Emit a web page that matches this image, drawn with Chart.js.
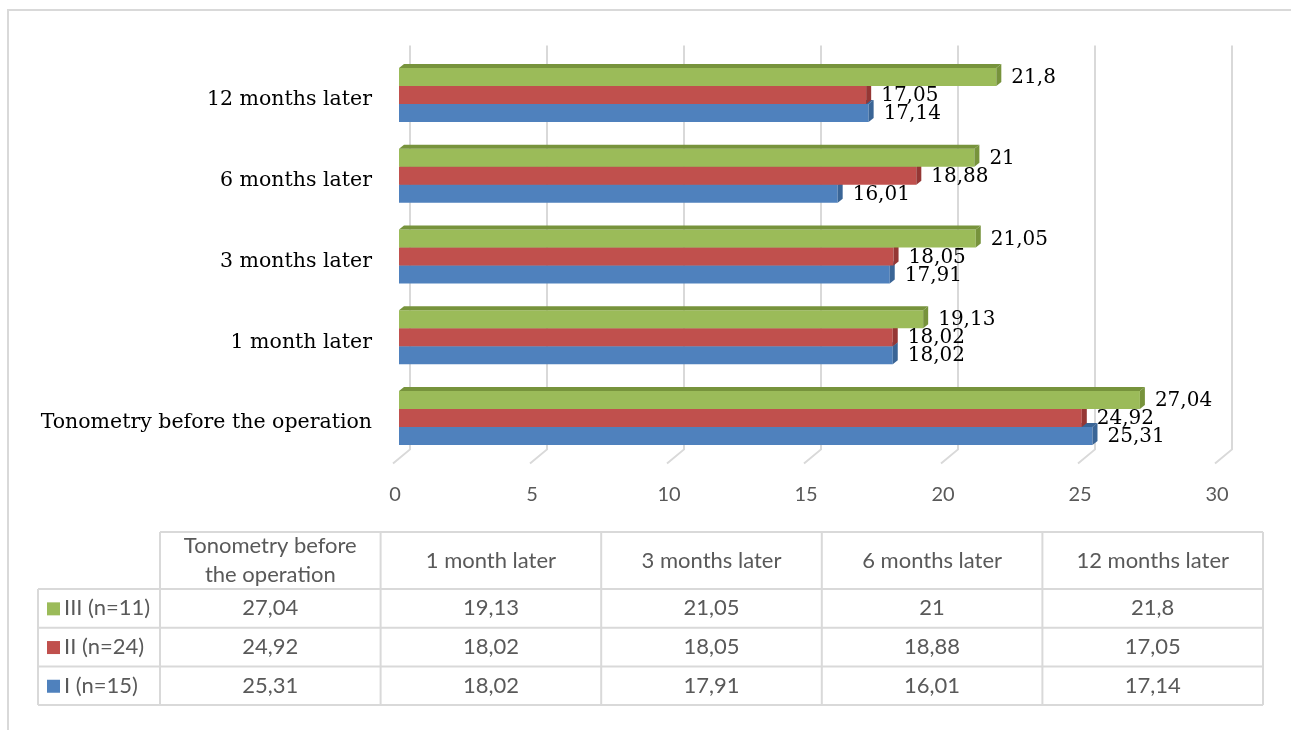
<!DOCTYPE html>
<html>
<head>
<meta charset="utf-8">
<title>Tonometry by group</title>
<script src="https://cdn.jsdelivr.net/npm/chart.js@4.4.1/dist/chart.umd.min.js"></script>
<style>
  html, body { margin: 0; padding: 0; background: #ffffff; }
  canvas { display: block; }
</style>
</head>
<body>
<canvas id="chart" width="1291" height="730"></canvas>
<script>
// Time points (first one is drawn at the bottom of the bar chart)
const categories = [
  'Tonometry before the operation',
  '1 month later',
  '3 months later',
  '6 months later',
  '12 months later'
];

// Group names as shown in the table legend
const seriesNames = ['III (n=11)', 'II (n=24)', 'I (n=15)'];

// Mean intraocular pressure per group
const groupIII = [27.04, 19.13, 21.05, 21, 21.8];
const groupII  = [24.92, 18.02, 18.05, 18.88, 17.05];
const groupI   = [25.31, 18.02, 17.91, 16.01, 17.14];

// Value axis
const axisMin = 0;
const axisMax = 30;
const axisStep = 5;

const frontColors = ['#9BBB59', '#C0504D', '#4F81BD'];
const sideColors  = ['#77933C', '#953735', '#3A6596'];

const fmt = v => String(v).replace('.', ',');

const SERIF = '"DejaVu Serif", "Liberation Serif", serif';
const SANS = 'Lato, "Open Sans", "Liberation Sans", sans-serif';
const GREY_TEXT = '#595959';
const LINE = '#d9d9d9';

// Box depth used for the pseudo-3D faces of every bar
const DX = 5, DY = -4;

// Outer frame of the chart
const framePlugin = {
  id: 'frame',
  beforeDraw(chart) {
    const ctx = chart.ctx;
    ctx.save();
    ctx.strokeStyle = LINE;
    ctx.lineWidth = 2;
    ctx.beginPath();
    ctx.moveTo(8, 730);
    ctx.lineTo(8, 10);
    ctx.lineTo(1291, 10);
    ctx.stroke();
    ctx.restore();
  }
};

// Back wall grid lines with their floor segments
const wallPlugin = {
  id: 'wall',
  beforeDatasetsDraw(chart) {
    const { ctx, chartArea: a, scales: { x } } = chart;
    ctx.save();
    ctx.strokeStyle = LINE;
    ctx.lineWidth = 2;
    x.ticks.forEach(t => {
      const px = x.getPixelForValue(t.value);
      ctx.beginPath();
      ctx.moveTo(px + 11, a.top - 9);
      ctx.lineTo(px + 11, a.bottom - 9);
      ctx.lineTo(px - 6, a.bottom + 5);
      ctx.stroke();
    });
    ctx.restore();
  }
};

// Top and right faces, drawn right after each dataset so later bars overlap correctly
const boxPlugin = {
  id: 'boxFaces',
  afterDatasetDraw(chart, args) {
    const ctx = chart.ctx;
    const i = args.index;
    ctx.save();
    ctx.fillStyle = sideColors[i];
    args.meta.data.forEach(bar => {
      const p = bar.getProps(['x', 'y', 'base', 'height'], true);
      const top = p.y - p.height / 2;
      const bot = p.y + p.height / 2;
      const x0 = Math.min(p.base, p.x);
      const x1 = Math.max(p.base, p.x);
      ctx.beginPath();
      ctx.moveTo(x0, top);
      ctx.lineTo(x0 + DX, top + DY);
      ctx.lineTo(x1 + DX, top + DY);
      ctx.lineTo(x1, top);
      ctx.closePath();
      ctx.fill();
      ctx.beginPath();
      ctx.moveTo(x1, top);
      ctx.lineTo(x1 + DX, top + DY);
      ctx.lineTo(x1 + DX, bot + DY);
      ctx.lineTo(x1, bot);
      ctx.closePath();
      ctx.fill();
    });
    ctx.restore();
  }
};

// Value labels at the end of the bars
const valueLabelPlugin = {
  id: 'valueLabels',
  afterDatasetsDraw(chart) {
    const ctx = chart.ctx;
    ctx.save();
    ctx.font = '20px ' + SERIF;
    ctx.fillStyle = '#000000';
    ctx.textAlign = 'left';
    ctx.textBaseline = 'middle';
    chart.data.datasets.forEach((ds, i) => {
      const meta = chart.getDatasetMeta(i);
      meta.data.forEach((bar, j) => {
        const p = bar.getProps(['x', 'y'], true);
        ctx.fillText(fmt(ds.data[j]), p.x + 15, p.y + 1);
      });
    });
    ctx.restore();
  }
};

// Data table under the chart
const tablePlugin = {
  id: 'dataTable',
  afterDraw(chart) {
    const ctx = chart.ctx;
    const left = 38, keyRight = 160, right = 1263;
    const headTop = 532, headBottom = 589, rowH = 38.7;
    const cats = chart.data.labels;
    const colW = (right - keyRight) / cats.length;
    const nRows = chart.data.datasets.length;
    const bottom = headBottom + rowH * nRows;

    ctx.save();
    ctx.strokeStyle = LINE;
    ctx.lineWidth = 2;
    ctx.beginPath();
    // header box
    ctx.moveTo(keyRight, headTop); ctx.lineTo(right, headTop);
    for (let c = 0; c <= cats.length; c++) {
      const x = keyRight + c * colW;
      ctx.moveTo(x, headTop); ctx.lineTo(x, bottom);
    }
    // body rows
    for (let r = 0; r <= nRows; r++) {
      const y = headBottom + r * rowH;
      ctx.moveTo(left, y); ctx.lineTo(right, y);
    }
    ctx.moveTo(left, headBottom); ctx.lineTo(left, bottom);
    ctx.stroke();

    ctx.fillStyle = GREY_TEXT;
    ctx.font = '22px ' + SANS;
    ctx.textAlign = 'center';
    ctx.textBaseline = 'middle';

    // header labels, wrapped to the column width
    cats.forEach((label, c) => {
      const cx = keyRight + (c + 0.5) * colW;
      const words = label.split(' ');
      const lines = [];
      let cur = '';
      words.forEach(w => {
        const t = cur ? cur + ' ' + w : w;
        if (ctx.measureText(t).width > colW - 30 && cur) { lines.push(cur); cur = w; }
        else cur = t;
      });
      lines.push(cur);
      const lh = 29;
      const cy = (headTop + headBottom) / 2;
      lines.forEach((ln, k) => {
        ctx.fillText(ln, cx, cy + (k - (lines.length - 1) / 2) * lh);
      });
    });

    // rows: legend key + values
    chart.data.datasets.forEach((ds, r) => {
      const cy = headBottom + (r + 0.5) * rowH;
      ctx.fillStyle = ds.backgroundColor;
      ctx.fillRect(47, cy - 6, 13, 13);
      ctx.fillStyle = GREY_TEXT;
      ctx.textAlign = 'left';
      ctx.fillText(ds.label, 64, cy);
      ctx.textAlign = 'center';
      ds.data.forEach((v, c) => {
        ctx.fillText(fmt(v), keyRight + (c + 0.5) * colW, cy);
      });
    });
    ctx.restore();
  }
};

const seriesValues = [groupIII, groupII, groupI];

new Chart(document.getElementById('chart'), {
  type: 'bar',
  data: {
    labels: categories,
    datasets: seriesValues.map((vals, i) => ({
      label: seriesNames[i],
      data: vals,
      backgroundColor: frontColors[i],
      borderWidth: 0,
      categoryPercentage: 0.67,
      barPercentage: 1.0
    }))
  },
  options: {
    indexAxis: 'y',
    responsive: false,
    animation: false,
    layout: { padding: { left: 0, right: 70, top: 54.6, bottom: 211.6 } },
    plugins: {
      legend: { display: false },
      tooltip: { enabled: false }
    },
    scales: {
      y: {
        type: 'category',
        reverse: true,
        grid: { display: false, drawTicks: false },
        border: { display: false },
        ticks: {
          color: '#000000',
          font: { family: SERIF, size: 20.5 },
          padding: 27,
          labelOffset: 5
        },
        afterFit(scale) { scale.width = 399; }
      },
      x: {
        min: axisMin,
        max: axisMax,
        grid: { display: false, drawTicks: false },
        border: { display: false },
        ticks: {
          stepSize: axisStep,
          color: GREY_TEXT,
          font: { family: SANS, size: 20 },
          padding: 24,
          labelOffset: -4
        },
        afterFit(scale) { scale.height = 60; }
      }
    }
  },
  plugins: [framePlugin, wallPlugin, boxPlugin, valueLabelPlugin, tablePlugin]
});
</script>
</body>
</html>
